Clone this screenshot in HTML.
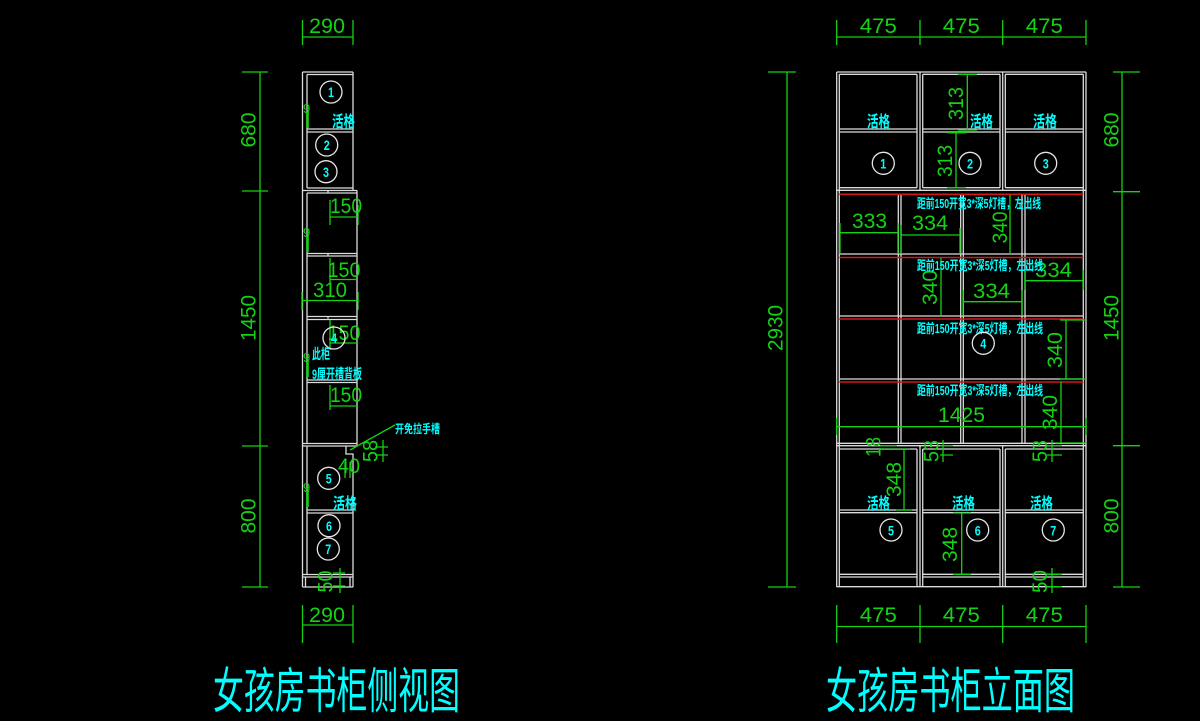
<!DOCTYPE html>
<html>
<head>
<meta charset="utf-8">
<style>
html,body{margin:0;padding:0;background:#000;}
body{width:1200px;height:721px;overflow:hidden;}
svg{display:block;}
.w{stroke:#dcdcdc;stroke-width:1.3;fill:none;}
.r{stroke:#d01818;stroke-width:1.6;fill:none;}
.g{stroke:#14d214;stroke-width:1.3;fill:none;}
.gt{fill:#14d214;font-family:"Liberation Sans",sans-serif;font-size:21px;}
.ct{fill:#00ffff;font-family:"Liberation Sans","Noto Sans CJK SC",sans-serif;font-weight:bold;}
.cn{fill:#00ffff;font-family:"Liberation Sans",sans-serif;font-size:14px;font-weight:bold;}
.ci{stroke:#e6e6e6;stroke-width:1.3;fill:none;}
.tt{fill:#00ffff;font-family:"Liberation Sans","Noto Sans CJK SC",sans-serif;font-size:49px;}
</style>
</head>
<body>
<svg width="1200" height="721" viewBox="0 0 1200 721" xmlns="http://www.w3.org/2000/svg">
<rect x="0" y="0" width="1200" height="721" fill="#000"/>

<!-- ================= LEFT SIDE VIEW ================= -->
<path class="w" d="
M302.5 72 V587
M307 74.5 V188 M307 193 V443.5 M307 446 V574.5
M353 72 V190.5
M357 190.5 V446
M346 446 V454 H353 V587
M302.5 72 H353
M307 74.5 H353
M307 129 H353 M307 132 H353
M307 188 H353
M302.5 190.5 H357
M307 193 H357
M307 253.5 H357 M307 256 H357
M307 316.5 H357 M307 319.5 H357
M307 380 H357 M307 382.5 H357
M302.5 443.5 H357
M302.5 446 H357
M307 510 H353 M307 513 H353
M302.5 574.5 H353 M302.5 577 H353
M302.5 587 H353
M305.5 577 V587 M350 577 V587
M328 190.5 v2 M328 253.5 v2 M328 316.5 v2
"/>

<!-- left dims -->
<path class="g" d="
M260 72 V587
M242 72 H268 M242 191 H268 M242 446 H268 M242 587 H268
M302.5 20 V45 M353 20 V45 M302.5 37 H353
M302.5 605 V643 M353 605 V643 M302.5 625 H353
M330 200 V225 M330 217 H358 M358 205 V225
M330 258 V283 M330 279.5 H358
M302 292 V310 M302 300.5 H358 M358 292 V310
M330 320 V350 M330 343 H358
M330 385 V410 M330 406 H358
M350 450 L395 425
M375 447 H388 M375 455 H388 M383 440 V462
M345 462 V478 M350 462 V478
M333 573 H345 M333 586 H345 M340 568 V593
"/>
<path d="M307.5 112 V128 M307.5 236 V252 M307.5 361 V377 M307.5 491 V507" stroke="#14d214" stroke-width="2.6" fill="none"/>
<text class="gt" x="303" y="113" font-size="13" style="font-size:13px">9</text>
<text class="gt" x="303" y="237" style="font-size:13px">9</text>
<text class="gt" x="303" y="362" style="font-size:13px">9</text>
<text class="gt" x="303" y="492" style="font-size:13px">9</text>

<text class="gt" x="327" y="33" text-anchor="middle" textLength="36" lengthAdjust="spacingAndGlyphs">290</text>
<text class="gt" x="327" y="622" text-anchor="middle" textLength="36" lengthAdjust="spacingAndGlyphs">290</text>
<text class="gt" transform="translate(248 130) rotate(-90)" x="0" y="7.5" text-anchor="middle" textLength="35" lengthAdjust="spacingAndGlyphs">680</text>
<text class="gt" transform="translate(248 318) rotate(-90)" x="0" y="7.5" text-anchor="middle" textLength="46" lengthAdjust="spacingAndGlyphs">1450</text>
<text class="gt" transform="translate(248 516) rotate(-90)" x="0" y="7.5" text-anchor="middle" textLength="35" lengthAdjust="spacingAndGlyphs">800</text>

<text class="gt" x="346" y="213" text-anchor="middle" textLength="32" lengthAdjust="spacingAndGlyphs">150</text>
<text class="gt" x="344" y="277" text-anchor="middle" textLength="33" lengthAdjust="spacingAndGlyphs">150</text>
<text class="gt" x="330" y="297" text-anchor="middle" textLength="34" lengthAdjust="spacingAndGlyphs">310</text>
<text class="gt" x="344" y="340" text-anchor="middle" textLength="33" lengthAdjust="spacingAndGlyphs">150</text>
<text class="gt" x="346" y="402" text-anchor="middle" textLength="32" lengthAdjust="spacingAndGlyphs">150</text>
<text class="gt" transform="translate(370.5 451) rotate(-90)" x="0" y="7" text-anchor="middle" textLength="22" lengthAdjust="spacingAndGlyphs">58</text>
<text class="gt" x="349" y="473" text-anchor="middle" textLength="22" lengthAdjust="spacingAndGlyphs">40</text>
<text class="gt" transform="translate(325.5 581.5) rotate(-90)" x="0" y="7" text-anchor="middle" textLength="22" lengthAdjust="spacingAndGlyphs">50</text>

<!-- left circles -->
<circle class="ci" cx="331" cy="92" r="11"/>
<circle class="ci" cx="326.7" cy="145" r="11"/>
<circle class="ci" cx="326" cy="171.7" r="11"/>
<circle class="ci" cx="334" cy="338" r="11"/>
<circle class="ci" cx="328.7" cy="478.3" r="11"/>
<circle class="ci" cx="329" cy="525.7" r="11"/>
<circle class="ci" cx="328.3" cy="549" r="11"/>
<text class="cn" x="331" y="97" text-anchor="middle" textLength="6" lengthAdjust="spacingAndGlyphs">1</text>
<text class="cn" x="326.7" y="150" text-anchor="middle" textLength="6" lengthAdjust="spacingAndGlyphs">2</text>
<text class="cn" x="326" y="177" text-anchor="middle" textLength="6" lengthAdjust="spacingAndGlyphs">3</text>
<text class="cn" x="334" y="343" text-anchor="middle" textLength="6" lengthAdjust="spacingAndGlyphs">4</text>
<text class="cn" x="328.7" y="483.5" text-anchor="middle" textLength="6" lengthAdjust="spacingAndGlyphs">5</text>
<text class="cn" x="329" y="531" text-anchor="middle" textLength="6" lengthAdjust="spacingAndGlyphs">6</text>
<text class="cn" x="328.3" y="554" text-anchor="middle" textLength="6" lengthAdjust="spacingAndGlyphs">7</text>

<text class="ct" x="332" y="127" style="font-size:16px" textLength="23" lengthAdjust="spacingAndGlyphs">活格</text>
<text class="ct" x="333" y="509" style="font-size:16px" textLength="24" lengthAdjust="spacingAndGlyphs">活格</text>
<text class="ct" x="312" y="359" style="font-size:14px" textLength="18" lengthAdjust="spacingAndGlyphs">此柜</text>
<text class="ct" x="312" y="379" style="font-size:14px" textLength="50" lengthAdjust="spacingAndGlyphs">9厘开槽背板</text>
<text class="ct" x="395" y="433" style="font-size:12px" textLength="45" lengthAdjust="spacingAndGlyphs">开免拉手槽</text>

<!-- ================= RIGHT ELEVATION ================= -->
<path class="w" d="
M836.7 72 V587 M839.3 74.3 V586.7
M1086 72 V587 M1083.3 74.3 V586.7
M917 74.3 V187.7 M920 72 V190.3 M922.7 74.3 V187.7
M1000 74.3 V187.7 M1002.7 72 V190.3 M1005.3 74.3 V187.7
M898.3 195 V443.3 M901 195 V443.3
M960.7 195 V443.3 M963.3 195 V443.3
M1022 195 V443.3 M1025 195 V443.3
M917 449 V586.7 M920 446 V586.7 M922.7 449 V586.7
M1000 449 V586.7 M1002.7 446 V586.7 M1005.3 449 V586.7
M836.7 72 H1086
M839.3 74.3 H917 M922.7 74.3 H1000 M1005.3 74.3 H1083.3
M839.3 129 H917 M922.7 129 H1000 M1005.3 129 H1083.3
M839.3 132 H917 M922.7 132 H1000 M1005.3 132 H1083.3
M839.3 187.7 H917 M922.7 187.7 H1000 M1005.3 187.7 H1083.3
M836.7 190.3 H1086
M839.3 254 H1083.3
M839.3 316 H1083.3
M839.3 379 H1083.3
M836.7 443.3 H1086 M836.7 445.7 H1086
M839.3 449 H917 M922.7 449 H1000 M1005.3 449 H1083.3
M839.3 510 H917 M922.7 510 H1000 M1005.3 510 H1083.3
M839.3 512.7 H917 M922.7 512.7 H1000 M1005.3 512.7 H1083.3
M839.3 574.3 H917 M922.7 574.3 H1000 M1005.3 574.3 H1083.3
M839.3 577 H917 M922.7 577 H1000 M1005.3 577 H1083.3
M836.7 586.7 H1086
"/>
<path class="r" d="M839.3 194.3 H1083.3 M839.3 257.5 H1083.3 M839.3 319 H1083.3 M839.3 382 H1083.3"/>

<!-- right dims -->
<path class="g" d="
M836.7 20 V45 M920 20 V45 M1002.7 20 V45 M1086 20 V45 M836.7 37 H1086
M836.7 605 V643 M920 605 V643 M1002.7 605 V643 M1086 605 V643 M836.7 626.5 H1086
M787 72 V587 M768 72 H796 M768 587 H796
M1122 72 V587 M1113 72 H1140 M1113 191.7 H1140 M1113 445.7 H1140 M1113 587 H1140
M967.3 74.3 V130 M958 74.3 H977 M958 130 H977
M956 132.7 V187.7 M947 132.7 H966 M947 187.7 H966
M840 223 V254 M898 223 V254 M840 232.7 H898
M901 225 V254 M960 228 V254 M901 235 H960
M1010 195 V254
M941 258 V315
M963 290 V316 M1022 290 V316 M963 301.7 H1022
M1025 270 V290 M1083 270 V290 M1025 280.7 H1083
M1066 320 V379 M1060 320 H1086 M1060 379 H1086
M1061 382 V443 M1055 443 H1086
M836.7 418 V435 M1086 418 V435 M836.7 426.7 H1086
M880 445.7 H897 M880 449.3 H910 M904 449 V510 M896 510 H912
M940 445.7 H953 M940 455 H953 M943 440 V462
M1047 445.7 H1062 M1047 455 H1062 M1052 440 V462
M961.7 513 V574.3 M953 513 H971 M953 574.3 H971
M1047 574.3 H1062 M1047 586.7 H1062 M1052 568 V593
"/>

<text class="gt" x="878.3" y="33" text-anchor="middle" textLength="37" lengthAdjust="spacingAndGlyphs">475</text>
<text class="gt" x="961.3" y="33" text-anchor="middle" textLength="37" lengthAdjust="spacingAndGlyphs">475</text>
<text class="gt" x="1044.3" y="33" text-anchor="middle" textLength="37" lengthAdjust="spacingAndGlyphs">475</text>
<text class="gt" x="878.3" y="622" text-anchor="middle" textLength="37" lengthAdjust="spacingAndGlyphs">475</text>
<text class="gt" x="961.3" y="622" text-anchor="middle" textLength="37" lengthAdjust="spacingAndGlyphs">475</text>
<text class="gt" x="1044.3" y="622" text-anchor="middle" textLength="37" lengthAdjust="spacingAndGlyphs">475</text>

<text class="gt" transform="translate(775 328) rotate(-90)" x="0" y="7.5" text-anchor="middle" textLength="46" lengthAdjust="spacingAndGlyphs">2930</text>
<text class="gt" transform="translate(1111 130) rotate(-90)" x="0" y="7.5" text-anchor="middle" textLength="35" lengthAdjust="spacingAndGlyphs">680</text>
<text class="gt" transform="translate(1111 318) rotate(-90)" x="0" y="7.5" text-anchor="middle" textLength="46" lengthAdjust="spacingAndGlyphs">1450</text>
<text class="gt" transform="translate(1111 516) rotate(-90)" x="0" y="7.5" text-anchor="middle" textLength="35" lengthAdjust="spacingAndGlyphs">800</text>

<text class="gt" transform="translate(955.5 103.5) rotate(-90)" x="0" y="7.5" text-anchor="middle" textLength="33" lengthAdjust="spacingAndGlyphs">313</text>
<text class="gt" transform="translate(944.5 161) rotate(-90)" x="0" y="7.5" text-anchor="middle" textLength="32" lengthAdjust="spacingAndGlyphs">313</text>

<text class="gt" x="869.5" y="228" text-anchor="middle" textLength="35" lengthAdjust="spacingAndGlyphs">333</text>
<text class="gt" x="930" y="230" text-anchor="middle" textLength="36" lengthAdjust="spacingAndGlyphs">334</text>
<text class="gt" transform="translate(999.5 227.5) rotate(-90)" x="0" y="7.5" text-anchor="middle" textLength="32" lengthAdjust="spacingAndGlyphs">340</text>
<text class="gt" transform="translate(929.5 287.5) rotate(-90)" x="0" y="7.5" text-anchor="middle" textLength="35" lengthAdjust="spacingAndGlyphs">340</text>
<text class="gt" x="991.5" y="298" text-anchor="middle" textLength="37" lengthAdjust="spacingAndGlyphs">334</text>
<text class="gt" x="1053.5" y="277" text-anchor="middle" textLength="37" lengthAdjust="spacingAndGlyphs">334</text>
<text class="gt" transform="translate(1054.5 350) rotate(-90)" x="0" y="7.5" text-anchor="middle" textLength="36" lengthAdjust="spacingAndGlyphs">340</text>
<text class="gt" transform="translate(1049.5 412.5) rotate(-90)" x="0" y="7.5" text-anchor="middle" textLength="35" lengthAdjust="spacingAndGlyphs">340</text>
<text class="gt" x="961.5" y="422" text-anchor="middle" textLength="47" lengthAdjust="spacingAndGlyphs">1425</text>

<text class="gt" transform="translate(873.5 447) rotate(-90)" x="0" y="7" text-anchor="middle" textLength="20" lengthAdjust="spacingAndGlyphs">18</text>
<text class="gt" transform="translate(894 479.5) rotate(-90)" x="0" y="7" text-anchor="middle" textLength="35" lengthAdjust="spacingAndGlyphs">348</text>
<text class="gt" transform="translate(931.5 451) rotate(-90)" x="0" y="7" text-anchor="middle" textLength="22" lengthAdjust="spacingAndGlyphs">53</text>
<text class="gt" transform="translate(1040 451) rotate(-90)" x="0" y="7" text-anchor="middle" textLength="22" lengthAdjust="spacingAndGlyphs">53</text>
<text class="gt" transform="translate(949.5 544.5) rotate(-90)" x="0" y="7.5" text-anchor="middle" textLength="35" lengthAdjust="spacingAndGlyphs">348</text>
<text class="gt" transform="translate(1040 581.5) rotate(-90)" x="0" y="7" text-anchor="middle" textLength="23" lengthAdjust="spacingAndGlyphs">50</text>

<!-- light slot notes -->
<text class="ct" x="917" y="208" style="font-size:13px" textLength="124" lengthAdjust="spacingAndGlyphs">距前150开宽3*深5灯槽，左出线</text>
<text class="ct" x="917" y="270" style="font-size:13px" textLength="126" lengthAdjust="spacingAndGlyphs">距前150开宽3*深5灯槽，左出线</text>
<text class="ct" x="917" y="333" style="font-size:13px" textLength="126" lengthAdjust="spacingAndGlyphs">距前150开宽3*深5灯槽，左出线</text>
<text class="ct" x="917" y="395" style="font-size:13px" textLength="126" lengthAdjust="spacingAndGlyphs">距前150开宽3*深5灯槽，左出线</text>

<!-- right circles -->
<circle class="ci" cx="883.3" cy="163.3" r="11"/>
<circle class="ci" cx="970" cy="163.3" r="11"/>
<circle class="ci" cx="1045.7" cy="163.3" r="11"/>
<circle class="ci" cx="983.3" cy="343.3" r="11"/>
<circle class="ci" cx="891" cy="530" r="11"/>
<circle class="ci" cx="977.7" cy="530" r="11"/>
<circle class="ci" cx="1053.3" cy="530" r="11"/>
<text class="cn" x="883.3" y="168.5" text-anchor="middle" textLength="6" lengthAdjust="spacingAndGlyphs">1</text>
<text class="cn" x="970" y="168.5" text-anchor="middle" textLength="6" lengthAdjust="spacingAndGlyphs">2</text>
<text class="cn" x="1045.7" y="168.5" text-anchor="middle" textLength="6" lengthAdjust="spacingAndGlyphs">3</text>
<text class="cn" x="983.3" y="348.5" text-anchor="middle" textLength="6" lengthAdjust="spacingAndGlyphs">4</text>
<text class="cn" x="891" y="535.5" text-anchor="middle" textLength="6" lengthAdjust="spacingAndGlyphs">5</text>
<text class="cn" x="977.7" y="535.5" text-anchor="middle" textLength="6" lengthAdjust="spacingAndGlyphs">6</text>
<text class="cn" x="1053.3" y="535.5" text-anchor="middle" textLength="6" lengthAdjust="spacingAndGlyphs">7</text>

<text class="ct" x="867" y="127" style="font-size:16px" textLength="23" lengthAdjust="spacingAndGlyphs">活格</text>
<text class="ct" x="970" y="127" style="font-size:16px" textLength="23" lengthAdjust="spacingAndGlyphs">活格</text>
<text class="ct" x="1033" y="127" style="font-size:16px" textLength="24" lengthAdjust="spacingAndGlyphs">活格</text>
<text class="ct" x="867" y="509" style="font-size:16px" textLength="23" lengthAdjust="spacingAndGlyphs">活格</text>
<text class="ct" x="952" y="509" style="font-size:16px" textLength="23" lengthAdjust="spacingAndGlyphs">活格</text>
<text class="ct" x="1030" y="509" style="font-size:16px" textLength="23" lengthAdjust="spacingAndGlyphs">活格</text>

<!-- titles -->
<text class="tt" x="213" y="708" textLength="247" lengthAdjust="spacingAndGlyphs">女孩房书柜侧视图</text>
<text class="tt" x="826" y="708" textLength="249" lengthAdjust="spacingAndGlyphs">女孩房书柜立面图</text>
</svg>
</body>
</html>
